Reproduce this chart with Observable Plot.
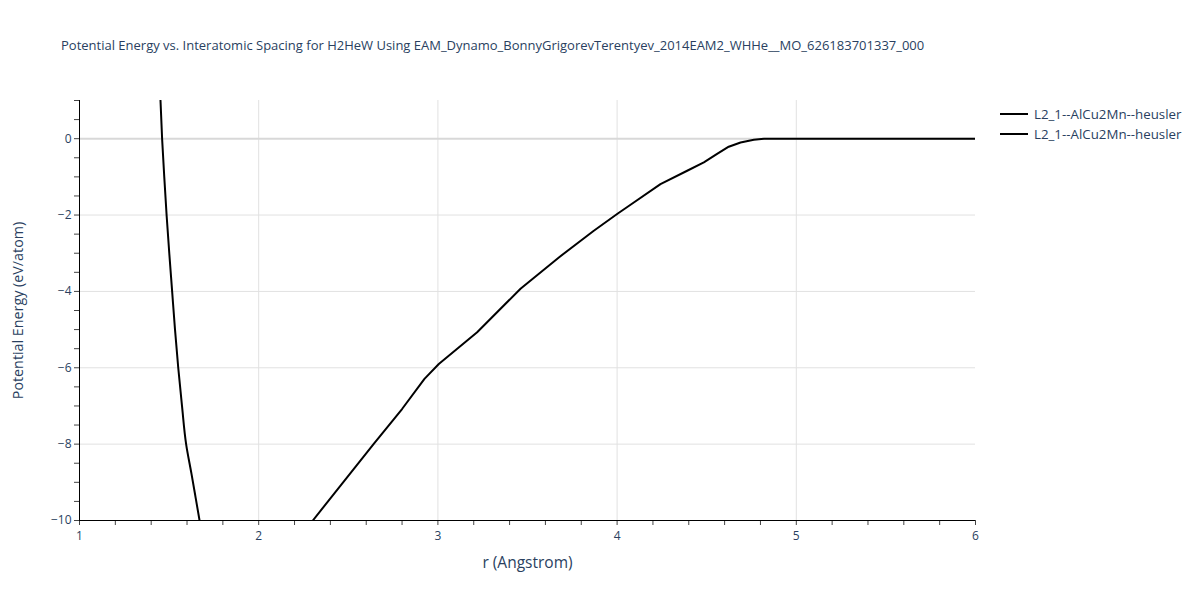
<!DOCTYPE html>
<html>
<head>
<meta charset="utf-8">
<script src="https://cdn.jsdelivr.net/npm/d3@7"></script>
<script src="https://cdn.jsdelivr.net/npm/@observablehq/plot@0.6"></script>
<style>
  body { margin: 0; background: #fff; font-family: "Open Sans", sans-serif; }
  #wrap { position: relative; width: 1200px; height: 600px; }
  #title { position: absolute; left: 61px; top: 36px; font-size: 13px; color: #2a3f5f; white-space: nowrap; }
  #legend { position: absolute; left: 1000px; top: 104px; font-size: 13.3px; color: #2a3f5f; }
  .li { display: flex; align-items: center; height: 20px; }
  .sw { width: 28px; height: 0; border-top: 2px solid #000; margin-right: 6px; }
  #chart { position: absolute; left: 0; top: 0; }
</style>
</head>
<body>
<div id="wrap">
  <div id="chart"></div>
  <div id="title">Potential Energy vs. Interatomic Spacing for H2HeW Using EAM_Dynamo_BonnyGrigorevTerentyev_2014EAM2_WHHe__MO_626183701337_000</div>
  <div id="legend"></div>
</div>
<script>
// Series names
const seriesNames = ["L2_1--AlCu2Mn--heusler", "L2_1--AlCu2Mn--heusler"];
// Branch 1 (repulsive side, visible part)
const r1 = [1.452, 1.461, 1.473, 1.486, 1.501, 1.517, 1.533, 1.551, 1.572, 1.595, 1.625, 1.648, 1.670];
const e1 = [1.0, 0.0, -1.0, -2.0, -3.0, -4.0, -5.0, -6.0, -7.0, -8.0, -8.78, -9.4, -10.0];
// Branch 2 (attractive side, visible part)
const r2 = [2.302, 2.642, 2.80, 2.925, 3.005, 3.219, 3.461, 3.675, 3.870, 4.004, 4.075, 4.242, 4.391, 4.484, 4.558, 4.623, 4.689, 4.763, 4.819, 5.0, 5.5, 6.0];
const e2 = [-10.0, -7.99, -7.08, -6.29, -5.90, -5.07, -3.93, -3.11, -2.41, -1.96, -1.73, -1.19, -0.84, -0.62, -0.40, -0.21, -0.10, -0.03, 0.0, 0.0, 0.0, 0.0];
// Axis ticks
const xMajor = [1, 2, 3, 4, 5, 6];
const yMajor = [-10, -8, -6, -4, -2, 0];

const d1 = r1.map((r, i) => ({r, e: e1[i]}));
const d2 = r2.map((r, i) => ({r, e: e2[i]}));

const isInt = (v, step) => Math.abs(v / step - Math.round(v / step)) < 1e-9;
const fmt = d3.format("d");
const xTicks = d3.range(0, 26).map(i => 1 + i * 0.2);
const yTicks = d3.range(0, 23).map(i => -10 + i * 0.5);

const chart = Plot.plot({
  width: 1200,
  height: 600,
  marginLeft: 79,
  marginRight: 225,
  marginTop: 100,
  marginBottom: 80,
  style: { fontFamily: "Open Sans, sans-serif", fontSize: "12px", color: "#2a3f5f", background: "#fff" },
  x: { domain: [1, 6] },
  y: { domain: [-10, 1] },
  marks: [
    Plot.gridX(xMajor.filter(v => v > 1 && v < 6), { stroke: "#e1e1e1", strokeOpacity: 1, strokeWidth: 1 }),
    Plot.gridY(yMajor.filter(v => v > -10 && v !== 0), { stroke: "#e1e1e1", strokeOpacity: 1, strokeWidth: 1 }),
    Plot.ruleY([0], { stroke: "#d8d8d8", strokeWidth: 2 }),
    Plot.line(d1, { x: "r", y: "e", stroke: "#000", strokeWidth: 2, clip: true, curve: "monotone-y" }),
    Plot.line(d2, { x: "r", y: "e", stroke: "#000", strokeWidth: 2, clip: true }),
    Plot.axisX({ ticks: xTicks, tickSize: 5, tickPadding: 6, stroke: "#444", fontSize: 12,
      tickFormat: d => isInt(d - 1, 1) ? fmt(Math.round(d)) : "",
      label: "r (Angstrom)", labelAnchor: "center", labelArrow: "none", labelOffset: 47 }),
    Plot.axisY({ ticks: yTicks, tickSize: 5, tickPadding: 3, stroke: "#444", fontSize: 12,
      tickFormat: d => isInt(d, 2) ? fmt(Math.round(d)) : "",
      label: "Potential Energy (eV/atom)", labelAnchor: "center", labelArrow: "none", labelOffset: 67 }),
    Plot.ruleX([1], { stroke: "#000", strokeWidth: 1 }),
    Plot.ruleY([-10], { stroke: "#000", strokeWidth: 1 })
  ]
});
chart.querySelectorAll("[aria-label='x-axis label'] text").forEach(t => t.style.fontSize = "15.5px");
chart.querySelectorAll("[aria-label='y-axis label'] text").forEach(t => t.style.fontSize = "14.3px");
document.getElementById("chart").appendChild(chart);

const leg = document.getElementById("legend");
seriesNames.forEach(n => {
  const row = document.createElement("div");
  row.className = "li";
  row.innerHTML = '<span class="sw"></span><span>' + n + '</span>';
  leg.appendChild(row);
});
</script>
</body>
</html>
